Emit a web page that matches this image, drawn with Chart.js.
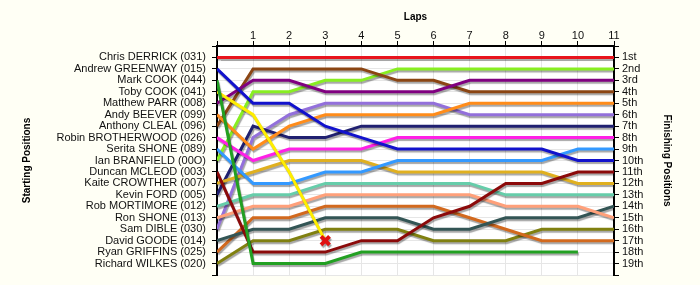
<!DOCTYPE html>
<html>
<head>
<meta charset="utf-8">
<script src="https://cdn.jsdelivr.net/npm/chart.js@4/dist/chart.umd.min.js"></script>
<style>
  html, body { margin: 0; padding: 0; background: #fffff5; }
  #wrap { width: 700px; height: 285px; }
</style>
</head>
<body>
<div id="wrap"><canvas id="lapchart"></canvas></div>
<script>
// Laps (0 = grid)
var laps = [0, 1, 2, 3, 4, 5, 6, 7, 8, 9, 10, 11];

// Drivers in starting order
var drivers = [
    'Chris DERRICK (031)', 'Andrew GREENWAY (015)', 'Mark COOK (044)', 'Toby COOK (041)',
    'Matthew PARR (008)', 'Andy BEEVER (099)', 'Anthony CLEAL (096)', 'Robin BROTHERWOOD (026)',
    'Serita SHONE (089)', 'Ian BRANFIELD (00O)', 'Duncan MCLEOD (003)', 'Kaite CROWTHER (007)',
    'Kevin FORD (005)', 'Rob MORTIMORE (012)', 'Ron SHONE (013)', 'Sam DIBLE (030)',
    'David GOODE (014)', 'Ryan GRIFFINS (025)', 'Richard WILKES (020)'
];

var finishLabels = ['1st', '2nd', '3rd', '4th', '5th', '6th', '7th', '8th', '9th', '10th',
    '11th', '12th', '13th', '14th', '15th', '16th', '17th', '18th', '19th'];

var colours = [
    '#e8141e', '#1212cc', '#22a022', '#ffee00', '#800080', '#ff8c1a', '#8b4513', '#ff20e6',
    '#3399ff', '#88ee22', '#8b0a0a', '#e0b020', '#202070', '#66cdaa', '#ffa07a', '#9370db',
    '#335555', '#d2691e', '#808010'
];

// Position at each lap, one row per driver (same order as drivers)
var positions = [
    [1, 1, 1, 1, 1, 1, 1, 1, 1, 1, 1, 1],
    [2, 5, 5, 7, 8, 9, 9, 9, 9, 9, 10, 10],
    [3, 19, 19, 19, 18, 18, 18, 18, 18, 18, 18],
    [4, 6, 11, 17],
    [5, 3, 3, 4, 4, 4, 4, 3, 3, 3, 3, 3],
    [6, 9, 7, 6, 6, 6, 6, 5, 5, 5, 5, 5],
    [7, 2, 2, 2, 2, 3, 3, 4, 4, 4, 4, 4],
    [8, 10, 9, 9, 9, 8, 8, 8, 8, 8, 8, 8],
    [9, 12, 12, 11, 11, 10, 10, 10, 10, 10, 9, 9],
    [10, 4, 4, 3, 3, 2, 2, 2, 2, 2, 2, 2],
    [11, 18, 18, 18, 17, 17, 15, 14, 12, 12, 11, 11],
    [12, 11, 10, 10, 10, 11, 11, 11, 11, 11, 12, 12],
    [13, 7, 8, 8, 7, 7, 7, 7, 7, 7, 7, 7],
    [14, 13, 13, 12, 12, 12, 12, 12, 13, 13, 13, 13],
    [15, 14, 14, 13, 13, 13, 13, 13, 14, 14, 14, 15],
    [16, 8, 6, 5, 5, 5, 5, 6, 6, 6, 6, 6],
    [17, 16, 16, 15, 15, 15, 16, 16, 15, 15, 15, 14],
    [18, 15, 15, 14, 14, 14, 14, 15, 16, 17, 17, 17],
    [19, 17, 17, 16, 16, 16, 17, 17, 17, 16, 16, 16]
];

// Retired drivers get a red cross on their last lap
var retired = [false, false, false, true, false, false, false, false, false, false,
    false, false, false, false, false, false, false, false, false];

var labelFont = { family: 'Liberation Sans', size: 11 };
var titleFont = { family: 'Liberation Sans', size: 10, weight: 'bold' };

var datasets = drivers.map(function(name, i) {
    var pts = positions[i].map(function(p, j) { return { x: laps[j], y: p }; });
    var last = pts.length - 1;
    return {
        label: name,
        data: pts,
        borderColor: colours[i],
        borderWidth: 3,
        tension: 0,
        pointStyle: 'crossRot',
        pointRadius: pts.map(function(p, j) { return retired[i] && j === last ? 6 : 0; }),
        pointBorderColor: '#e01010',
        pointBorderWidth: 4,
        pointBackgroundColor: '#e01010'
    };
});

// Fond crème et zone du graphique en blanc
var background = {
    id: 'background',
    beforeDraw: function(chart) {
        var ctx = chart.ctx, a = chart.chartArea;
        ctx.save();
        ctx.fillStyle = '#fffff5';
        ctx.fillRect(0, 0, chart.width, chart.height);
        ctx.fillStyle = '#ffffff';
        ctx.fillRect(a.left, a.top, a.right - a.left, a.bottom - a.top);
        ctx.restore();
    }
};

// Ombre sous les lignes
var shadow = {
    id: 'shadow',
    beforeDatasetsDraw: function(chart) {
        var c = chart.ctx;
        c.save();
        c.shadowColor = 'rgba(0,0,0,0.35)';
        c.shadowOffsetX = 1;
        c.shadowOffsetY = 2;
        c.shadowBlur = 1;
    },
    afterDatasetsDraw: function(chart) {
        chart.ctx.restore();
    }
};

function yAxis(side, width, labels, title, titlePad) {
    return {
        type: 'linear',
        position: side,
        reverse: true,
        min: 0,
        max: 20,
        afterFit: function(s) {
            s.width = width;
            s.paddingTop = 0;
            s.paddingBottom = 0;
        },
        ticks: {
            stepSize: 1,
            autoSkip: false,
            maxTicksLimit: 30,
            padding: side === 'left' ? 6 : 3,
            color: '#111',
            font: labelFont,
            callback: function(v) { return labels[v - 1] || ''; }
        },
        grid: {
            color: '#e6e6e6',
            tickColor: '#000',
            tickLength: 5,
            drawOnChartArea: side === 'left'
        },
        border: { color: '#000', width: 2 },
        title: {
            display: true,
            text: title,
            color: '#000',
            font: titleFont,
            padding: { top: titlePad, bottom: 0 }
        }
    };
}

var config = {
    type: 'line',
    data: { datasets: datasets },
    options: {
        responsive: true,
        maintainAspectRatio: false,
        animation: false,
        layout: { padding: { bottom: 10 } },
        plugins: {
            legend: { display: false },
            tooltip: { enabled: false }
        },
        scales: {
            x: {
                type: 'linear',
                position: 'top',
                min: 0,
                max: 11,
                afterFit: function(s) { s.height = 46; },
                ticks: {
                    stepSize: 1,
                    autoSkip: false,
                    padding: -2,
                    color: '#111',
                    font: labelFont,
                    callback: function(v) { return v === 0 ? '' : v; }
                },
                grid: { color: '#e6e6e6', tickColor: '#000', tickLength: 5 },
                border: { color: '#000', width: 2 },
                title: {
                    display: true,
                    text: 'Laps',
                    color: '#000',
                    font: titleFont,
                    padding: { top: 11, bottom: 0 }
                }
            },
            y: yAxis('left', 217, drivers, 'Starting Positions', 21),
            y2: yAxis('right', 86, finishLabels, 'Finishing Positions', 27)
        }
    },
    plugins: [background, shadow]
};

var ctx = document.getElementById('lapchart').getContext('2d');
new Chart(ctx, config);
</script>
</body>
</html>
